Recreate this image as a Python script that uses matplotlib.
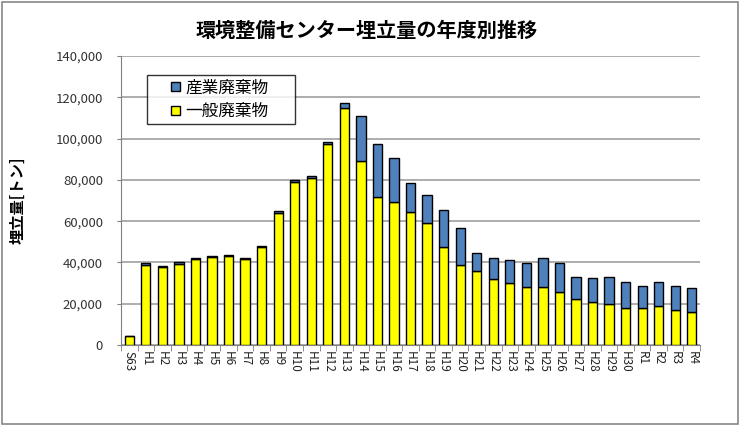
import numpy as np
import matplotlib.pyplot as plt
from matplotlib.patches import Rectangle
from matplotlib.container import BarContainer
from matplotlib.legend_handler import HandlerPatch, update_from_first_child
from matplotlib.ticker import FuncFormatter, FixedLocator

plt.rcParams['font.family'] = ['Noto Sans CJK JP', 'DejaVu Sans']

nendo = ['S63'] + ['H%d' % i for i in range(1, 31)] + ['R1', 'R2', 'R3', 'R4']

# 一般廃棄物 (t)
ippan = [4400, 39000, 37800, 39400, 41700, 42700, 43200, 41500, 47400, 63800,
         78800, 80700, 97200, 114600, 89200, 71500, 69400, 64600, 59000, 47300,
         38800, 35700, 31800, 29900, 28300, 28300, 25800, 22100, 20800, 19700,
         17800, 17800, 19000, 17100, 15800]
# 産業廃棄物 (t)
sangyo = [0, 600, 600, 600, 600, 600, 600, 600, 600, 1100,
          1200, 1300, 1300, 2800, 21700, 25900, 21000, 13900, 13500, 17900,
          18000, 9000, 10500, 11400, 11300, 14000, 13800, 11000, 11800, 13400,
          12900, 10900, 11700, 11600, 12000]

fig = plt.figure(figsize=(7.4, 4.26), dpi=100)
ax = fig.add_axes([0.1635, 0.190, 0.7825, 0.6785])

x = np.arange(len(nendo))
w = 0.56
ax.bar(x, ippan, w, color='#FFFF00', edgecolor='black', linewidth=1.0,
       label='一般廃棄物', zorder=3)
ax.bar(x, sangyo, w, bottom=ippan, color='#4F81BD', edgecolor='black',
       linewidth=1.0, label='産業廃棄物', zorder=3)

ax.set_xlim(-0.5, len(nendo) - 0.5)
ax.set_ylim(0, 140000)
ax.set_yticks(np.arange(0, 140001, 20000))
ax.yaxis.set_major_formatter(FuncFormatter(lambda v, p: '{:,.0f}'.format(v)))
ax.grid(axis='y', color='#A0A0A0', linewidth=1.2, zorder=0)

ax.set_xticks(x)
ax.set_xticklabels(nendo, rotation=-90, fontsize=8.5, color='#222222')
ax.xaxis.set_minor_locator(FixedLocator(np.arange(-0.5, len(nendo), 1)))
ax.tick_params(axis='x', which='major', length=0, pad=4)
ax.tick_params(axis='x', which='minor', length=4, color='#808080')
ax.tick_params(axis='y', length=3, color='#808080', labelsize=9.5,
               labelcolor='#333333', pad=10)

for s in ['top', 'right']:
    ax.spines[s].set_visible(False)
for s in ['left', 'bottom']:
    ax.spines[s].set_color('#808080')

ax.set_ylabel('埋立量[トン]', fontsize=11, fontweight='bold', labelpad=22)


# small square legend key, pushed to the right end of the handle box
def square_key(legend, orig_handle, xdescent, ydescent, width, height, fontsize):
    s = 6.8
    return Rectangle((-xdescent + width - s, -ydescent + (height - s) / 2), s, s)


h, l = ax.get_legend_handles_labels()
leg = ax.legend(h[::-1], l[::-1], loc='upper left',
                bbox_to_anchor=(0.045, 0.5, 0.2556, 0.434), mode='expand',
                borderaxespad=0, fontsize=12, frameon=True, fancybox=False,
                edgecolor='black', handlelength=1.75, handleheight=0.6,
                borderpad=0.25, labelspacing=0.42, handletextpad=0.3,
                handler_map={BarContainer: HandlerPatch(
                    patch_func=square_key, update_func=update_from_first_child)})
leg.get_frame().set_linewidth(1.0)

fig.text(0.496, 0.928, '環境整備センター埋立量の年度別推移', ha='center', va='center',
         fontsize=14.5, fontweight='bold')

fig.patches.append(Rectangle((0.003, 0.005), 0.994, 0.99, transform=fig.transFigure,
                             fill=False, edgecolor='#888888', linewidth=1.2))

fig.savefig('out.png', dpi=100)
